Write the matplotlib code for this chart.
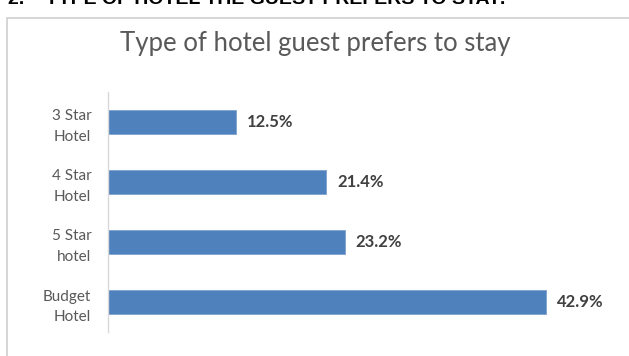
import matplotlib.pyplot as plt
import matplotlib.patches as patches

# data
categories = ['3 Star\nHotel', '4 Star\nHotel', '5 Star\nhotel', 'Budget\nHotel']
percent = [12.5, 21.4, 23.2, 42.9]
labels = ['12.5%', '21.4%', '23.2%', '42.9%']

W, H = 629, 356
fig = plt.figure(figsize=(W / 100, H / 100), dpi=100)
fig.patch.set_facecolor('white')

# document heading, cut off by the top edge as in the reference
fig.text(8 / W, 1 - 4 / H, '2.    TYPE OF HOTEL THE GUEST PREFERS TO STAY:',
         fontsize=14, fontweight='bold', color='black', family='Liberation Sans',
         va='baseline', ha='left')

# chart frame
frame = patches.Rectangle((7 / W, -0.1), 1.2, 1 - 18 / H + 0.1, transform=fig.transFigure,
                          fill=False, edgecolor='#d0d0d0', linewidth=1.2)
fig.patches.append(frame)

fig.text(315 / W, 1 - 43 / H, 'Type of hotel guest prefers to stay', fontsize=18.5,
         color='#595959', family='Lato', ha='center', va='center')

ax = fig.add_axes([108 / W, 1 - 332 / H, (618 - 108) / W, 240 / H])
ypos = list(range(len(categories)))
bars = ax.barh(ypos, percent, height=0.4, color='#4f81bd', edgecolor='#7ea3d0', linewidth=0.6)
ax.set_ylim(len(categories) - 0.5, -0.5)
ax.set_xlim(0, 50)
ax.set_yticks(ypos)
ax.set_yticklabels(categories, fontsize=11, color='#595959', family='Lato',
                   linespacing=1.55)
ax.tick_params(axis='y', length=0, pad=12)
ax.set_xticks([])
for s in ['top', 'right', 'bottom']:
    ax.spines[s].set_visible(False)
ax.spines['left'].set_color('#d9d9d9')
ax.spines['left'].set_linewidth(1.0)

for b, t in zip(bars, labels):
    ax.annotate(t, (b.get_width(), b.get_y() + b.get_height() / 2), xytext=(8, 0),
                textcoords='offset points', va='center', ha='left', fontsize=12,
                fontweight='bold', color='#404040', family='Lato')

fig.savefig('out.png', dpi=100)
